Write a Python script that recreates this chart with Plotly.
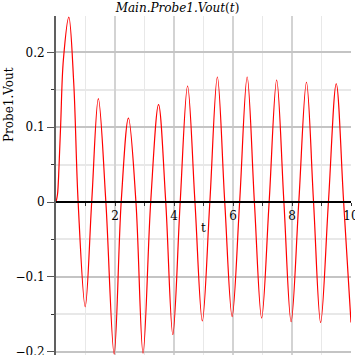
import plotly.graph_objects as go

# Read-off points of Main.Probe1.Vout(t): extrema and zero crossings
t_vals = [0.0, 0.05, 0.10, 0.16, 0.25, 0.435, 0.60, 0.75, 0.99, 1.21, 1.435, 1.69, 1.97,
          2.21, 2.456, 2.71, 2.95, 3.21, 3.476, 3.72, 3.96, 4.21, 4.46, 4.71, 4.96,
          5.215, 5.47, 5.72, 5.97, 6.225, 6.48, 6.725, 6.97, 7.225, 7.48, 7.725, 7.97,
          8.23, 8.49, 8.73, 8.97, 9.235, 9.50, 9.75, 10.0]
v_vals = [0.0, 0.010, 0.045, 0.105, 0.190, 0.247, 0.160, 0.0, -0.140, 0.0, 0.138, 0.0, -0.203,
          0.0, 0.112, 0.0, -0.202, 0.0, 0.130, 0.0, -0.177, 0.0, 0.155, 0.0, -0.159,
          0.0, 0.167, 0.0, -0.153, 0.0, 0.167, 0.0, -0.155, 0.0, 0.163, 0.0, -0.160,
          0.0, 0.160, 0.0, -0.161, 0.0, 0.158, 0.0, -0.161]

x_major = [2, 4, 6, 8, 10]
x_major_text = ["2", "4", "6", "8", "10"]
x_minor = [1, 3, 5, 7, 9]
y_major = [-0.2, -0.1, 0, 0.1, 0.2]
y_major_text = ["\u22120.2", "\u22120.1", "0", "0.1", "0.2"]
y_minor = [-0.15, -0.05, 0.05, 0.15]

title_text = "<i>Main.Probe1.Vout</i>(<i>t</i>)"
x_label = "t"
y_label = "Probe1.Vout"

FONT = "DejaVu Serif"
FS = 12

fig = go.Figure()
fig.add_trace(go.Scatter(
    x=t_vals, y=v_vals, mode="lines",
    line=dict(color="#ff0000", width=1.2, shape="spline", smoothing=1.0),
    showlegend=False, hoverinfo="skip",
))

Y_RANGE = [-0.2044, 0.2485]
M_L, M_R, M_T, M_B = 56, 4, 16, 0
plot_w = 355 - M_L - M_R
plot_h = 355 - M_T - M_B
zero_pos = (0 - Y_RANGE[0]) / (Y_RANGE[1] - Y_RANGE[0])

fig.update_layout(
    width=355, height=355,
    margin=dict(l=M_L, r=M_R, t=M_T, b=M_B, autoexpand=False),
    paper_bgcolor="white", plot_bgcolor="white",
    font=dict(family=FONT, size=FS, color="black"),
    title=dict(text=title_text, x=0.5, xref="container", xanchor="center",
               y=1 - 8 / 355, yref="container", yanchor="middle",
               font=dict(family=FONT, size=FS, color="black")),
    xaxis=dict(
        range=[0, 10], tickmode="array", tickvals=x_major, ticktext=x_major_text,
        showgrid=True, gridcolor="#d3d3d3", gridwidth=2,
        minor=dict(tickmode="array", tickvals=x_minor, showgrid=True, gridcolor="#e8e8e8",
                   gridwidth=1, ticks="outside", ticklen=3, tickcolor="#333333", tickwidth=1),
        ticks="outside", ticklen=3, tickcolor="#333333",
        showline=True, linecolor="black", linewidth=1.5,
        anchor="free", position=zero_pos, zeroline=False,
        ticklabeloverflow="allow", automargin=False,
        tickfont=dict(family=FONT, size=FS, color="black"),
    ),
    yaxis=dict(
        range=Y_RANGE, tickmode="array", tickvals=y_major, ticktext=y_major_text,
        showgrid=True, gridcolor="#c4c4c4", gridwidth=1.5,
        minor=dict(tickmode="array", tickvals=y_minor, showgrid=True, gridcolor="#e8e8e8",
                   gridwidth=2, ticks="outside", ticklen=3, tickcolor="#333333", tickwidth=1),
        ticks="outside", ticklen=7, tickcolor="#555555",
        showline=True, linecolor="#606060", linewidth=2, zeroline=False,
        ticklabeloverflow="allow", automargin=False,
        tickfont=dict(family=FONT, size=FS, color="black"),
    ),
    annotations=[
        dict(text=y_label, x=(9 - M_L) / plot_w, y=(355 - M_B - 105) / plot_h,
             xref="paper", yref="paper", xanchor="center", yanchor="middle",
             showarrow=False,
             textangle=-90, font=dict(family=FONT, size=FS, color="black")),
        dict(text=x_label, x=5, y=0, xref="x", yref="y", showarrow=False,
             yshift=-26, font=dict(family=FONT, size=FS, color="black")),
    ],
)

fig.write_html("out.html")
